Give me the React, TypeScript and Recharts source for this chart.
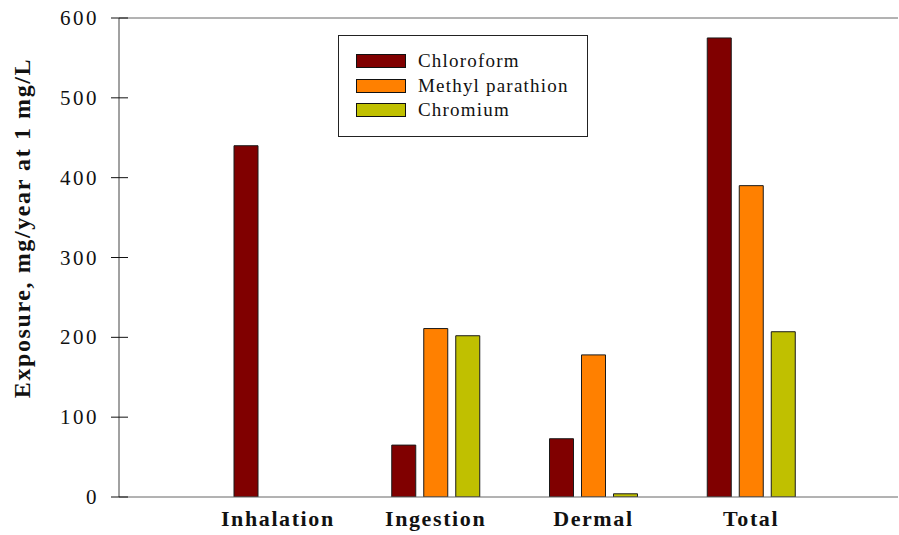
import {
  BarChart,
  Bar,
  XAxis,
  YAxis,
  ReferenceLine,
} from "recharts";

const routes = ["Inhalation", "Ingestion", "Dermal", "Total"];
const chloroform = [440, 65, 73, 575];
const methylParathion = [null, 211, 178, 390];
const chromium = [null, 202, 4, 207];
const yTicks = [0, 100, 200, 300, 400, 500, 600];

const series = [
  { key: "chloroform", name: "Chloroform", color: "#800000" },
  { key: "methylParathion", name: "Methyl parathion", color: "#FF8000" },
  { key: "chromium", name: "Chromium", color: "#C0C000" },
];

const data = routes.map((route, i) => ({
  route,
  chloroform: chloroform[i],
  methylParathion: methylParathion[i],
  chromium: chromium[i],
}));

const serif = "Liberation Serif, Times New Roman, serif";

const YTick = ({ x, y, payload }: any) => (
  <g>
    <line x1={x - 8} x2={x + 9} y1={y} y2={y} stroke="#111" strokeWidth={1} />
    <text
      x={x - 20}
      y={y}
      dy={7}
      textAnchor="end"
      style={{ fontFamily: serif }}
      fontSize={21}
      letterSpacing={2.5}
      fill="#111"
    >
      {payload.value}
    </text>
  </g>
);

const XTick = ({ x, y, payload }: any) => (
  <text
    x={x}
    y={y}
    dy={21}
    textAnchor="middle"
    style={{ fontFamily: serif }}
    fontWeight="bold"
    fontSize={22}
    letterSpacing={1.6}
    fill="#111"
  >
    {payload.value}
  </text>
);

// legend drawn as a plain box over the plot area
const LegendBox = () => (
  <div
    style={{
      position: "absolute",
      left: 338,
      top: 35,
      width: 250,
      height: 102,
      border: "1px solid #222",
      background: "#fff",
      boxSizing: "border-box",
      fontFamily: serif,
    }}
  >
    {series.map((s, i) => (
      <div
        key={s.key}
        style={{
          position: "absolute",
          left: 17,
          top: 18 + i * 24.5,
          display: "flex",
          alignItems: "center",
          height: 14,
        }}
      >
        <div
          style={{
            width: 50,
            height: 14,
            background: s.color,
            border: "1px solid #111",
            boxSizing: "border-box",
          }}
        />
        <span
          style={{
            marginLeft: 12,
            fontSize: 19,
            letterSpacing: 1.2,
            color: "#111",
            whiteSpace: "nowrap",
            lineHeight: "14px",
          }}
        >
          {s.name}
        </span>
      </div>
    ))}
  </div>
);

const App = () => {
  return (
    <div style={{ position: "absolute", left: 0, top: 0, width: 899, height: 535, background: "#fff" }}>
      <BarChart
        width={899}
        height={535}
        data={data}
        margin={{ top: 18, right: 1, bottom: 0, left: 0 }}
        barSize={24}
        barGap={8}
      >
        <XAxis
          dataKey="route"
          height={38}
          padding={{ left: 80, right: 68 }}
          axisLine={{ stroke: "#666" }}
          tickLine={false}
          tick={<XTick />}
          interval={0}
        />
        <YAxis
          width={119}
          domain={[0, 600]}
          ticks={yTicks}
          axisLine={{ stroke: "#444" }}
          tickLine={false}
          tickSize={0}
          tickMargin={0}
          tick={<YTick />}
          allowDataOverflow
        />
        <ReferenceLine y={600} stroke="#666" />
        {series.map((s) => (
          <Bar
            key={s.key}
            dataKey={s.key}
            name={s.name}
            fill={s.color}
            stroke="#1a1a1a"
            strokeWidth={1}
            isAnimationActive={false}
          />
        ))}
      </BarChart>
      <LegendBox />
      <div
        style={{
          position: "absolute",
          left: 22,
          top: 228,
          transform: "translate(-50%, -50%) rotate(-90deg)",
          fontFamily: serif,
          fontWeight: "bold",
          fontSize: 24,
          letterSpacing: 1.6,
          whiteSpace: "nowrap",
          color: "#111",
        }}
      >
        Exposure, mg/year at 1 mg/L
      </div>
    </div>
  );
};

export default App;
